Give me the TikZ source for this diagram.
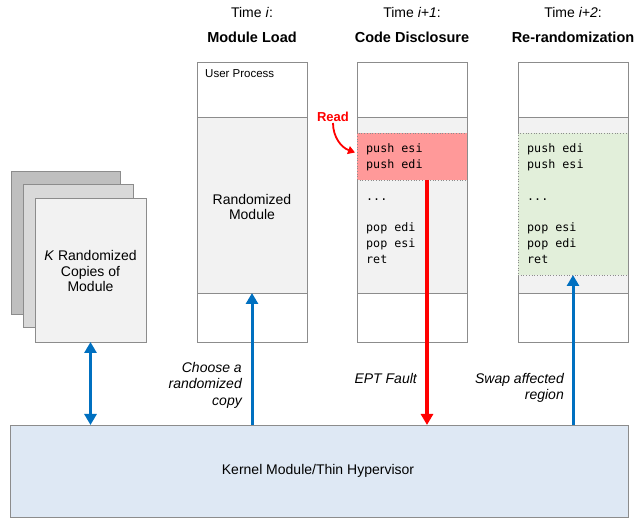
\documentclass[tikz,border=0pt]{standalone}
\usepackage{fontspec}
\setmainfont{Liberation Sans}
\newfontfamily\codefont{DejaVu Sans Mono}
\usetikzlibrary{arrows.meta}

\definecolor{edgegray}{HTML}{8C8C8C}
\definecolor{panelgray}{HTML}{F2F2F2}
\definecolor{pageback}{HTML}{BFBFBF}
\definecolor{pagemid}{HTML}{D9D9D9}
\definecolor{kernelblue}{HTML}{DEE8F4}
\definecolor{leakred}{HTML}{FF9999}
\definecolor{freshgreen}{HTML}{E2EFDA}
\definecolor{flowblue}{HTML}{0070C0}

% elided instructions in a listing
\newcommand\codegap{...}

\begin{document}
\begin{tikzpicture}[x=1pt,y=-1pt,
  blk/.style={draw=edgegray, line width=0.9pt, inner sep=0pt, outer sep=0pt, anchor=north west},
  region/.style={draw=edgegray, line width=0.7pt, dotted, inner sep=0pt, outer sep=0pt, anchor=north west},
  toplbl/.style={font=\fontsize{14}{17}\selectfont, anchor=base},
  headlbl/.style={font=\fontsize{14.5}{17}\selectfont\bfseries, anchor=base},
  body/.style={font=\fontsize{14}{15.5}\selectfont, align=center, inner sep=0pt},
  note/.style={font=\fontsize{14}{16.5}\selectfont\itshape, align=right, anchor=east, inner sep=0pt},
  code/.style={font=\fontsize{11.7}{14}\codefont, anchor=base west, inner sep=0pt},
  bluearrow/.style={draw=flowblue, line width=3pt, -{Triangle[length=11pt,width=12pt]}},
  redarrow/.style={draw=red, line width=3.2pt, -{Triangle[length=11pt,width=12pt]}}
]
\useasboundingbox (0,0) rectangle (635,518);

% stack of randomized module copies
\node[blk, fill=pageback, minimum width=109pt, minimum height=143pt] (pg3) at (11,171) {};
\node[blk, fill=pagemid, minimum width=110pt, minimum height=143pt] (pg2) at (23,184) {};
\node[blk, fill=panelgray, minimum width=111pt, minimum height=144pt] (pg1) at (35,198) {};
\node[body] (pgtxt) at (90.5,271) {\textit{K} Randomized\\Copies of\\Module};

% kernel module / hypervisor
\node[blk, fill=kernelblue, minimum width=618pt, minimum height=92pt] (kernel) at (10,425) {};
\node[body] (kerneltxt) at (318,471) {Kernel Module/Thin Hypervisor};

% column 1: module load
\node[blk, fill=white, minimum width=110pt, minimum height=55pt] (a1) at (197,62) {};
\node[blk, fill=panelgray, minimum width=110pt, minimum height=176pt] (a2) at (197,117) {};
\node[blk, fill=white, minimum width=110pt, minimum height=49pt] (a3) at (197,293) {};
\node[font=\fontsize{11.5}{13}\selectfont, anchor=base west, inner sep=0pt] (userproc) at (205,78) {User Process};
\node[body] (randmod) at (252,207) {Randomized\\Module};

% column 2: code disclosure
\node[blk, fill=white, minimum width=110pt, minimum height=55pt] (b1) at (357,62) {};
\node[blk, fill=panelgray, minimum width=110pt, minimum height=176pt] (b2) at (357,117) {};
\node[blk, fill=white, minimum width=110pt, minimum height=49pt] (b3) at (357,293) {};
\node[region, fill=leakred, minimum width=110pt, minimum height=47pt] (leak) at (357,133) {};

% column 3: re-randomization
\node[blk, fill=white, minimum width=110pt, minimum height=55pt] (c1) at (518,62) {};
\node[blk, fill=panelgray, minimum width=110pt, minimum height=176pt] (c2) at (518,117) {};
\node[blk, fill=white, minimum width=110pt, minimum height=49pt] (c3) at (518,293) {};
\node[region, fill=freshgreen, minimum width=110pt, minimum height=142pt] (fresh) at (518,133) {};

% instruction listings
\foreach \t/\yy [count=\k] in {push esi/153, push edi/169, \codegap/201, pop edi/232, pop esi/248, ret/264}
  \node[code] (bcode\k) at (366,\yy) {\t};
\foreach \t/\yy [count=\k] in {push edi/153, push esi/169, \codegap/201, pop esi/232, pop edi/248, ret/264}
  \node[code] (ccode\k) at (527,\yy) {\t};

% column headings
\node[toplbl] (ta) at (252,18) {Time \textit{i}:};
\node[headlbl] (ha) at (252,43) {Module Load};
\node[toplbl] (tb) at (412,18) {Time \textit{i+1}:};
\node[headlbl] (hb) at (412,43) {Code Disclosure};
\node[toplbl] (tc) at (573,18) {Time \textit{i+2}:};
\node[headlbl] (hc) at (573,43) {Re-randomization};

% read access
\node[font=\fontsize{13}{15}\selectfont\bfseries, text=red, inner sep=1pt] (read) at (333,117) {Read};
\draw[red, line width=1.8pt, -{Triangle[length=7pt,width=8pt]}]
  (read.south) to[out=270, in=160] ([xshift=-2pt,yshift=4pt]leak.west);

% connectors to the kernel
\draw[bluearrow, {Triangle[length=11pt,width=12pt]}-{Triangle[length=11pt,width=12pt]}]
  (pg1.south) -- (pg1.south |- kernel.north);
\draw[bluearrow] (a3.north |- kernel.north) -- (a3.north);
\coordinate (faultx) at (427,0);
\draw[redarrow] (leak.south -| faultx) -- (kernel.north -| faultx);
\draw[bluearrow] (fresh.south |- kernel.north) -- (fresh.south);

% connector labels
\node[note] (choose) at (242,385) {Choose a\\randomized\\copy};
\node[note] (ept) at (417,378) {EPT Fault};
\node[note] (swap) at (564,388) {Swap affected\\region};
\end{tikzpicture}
\end{document}
